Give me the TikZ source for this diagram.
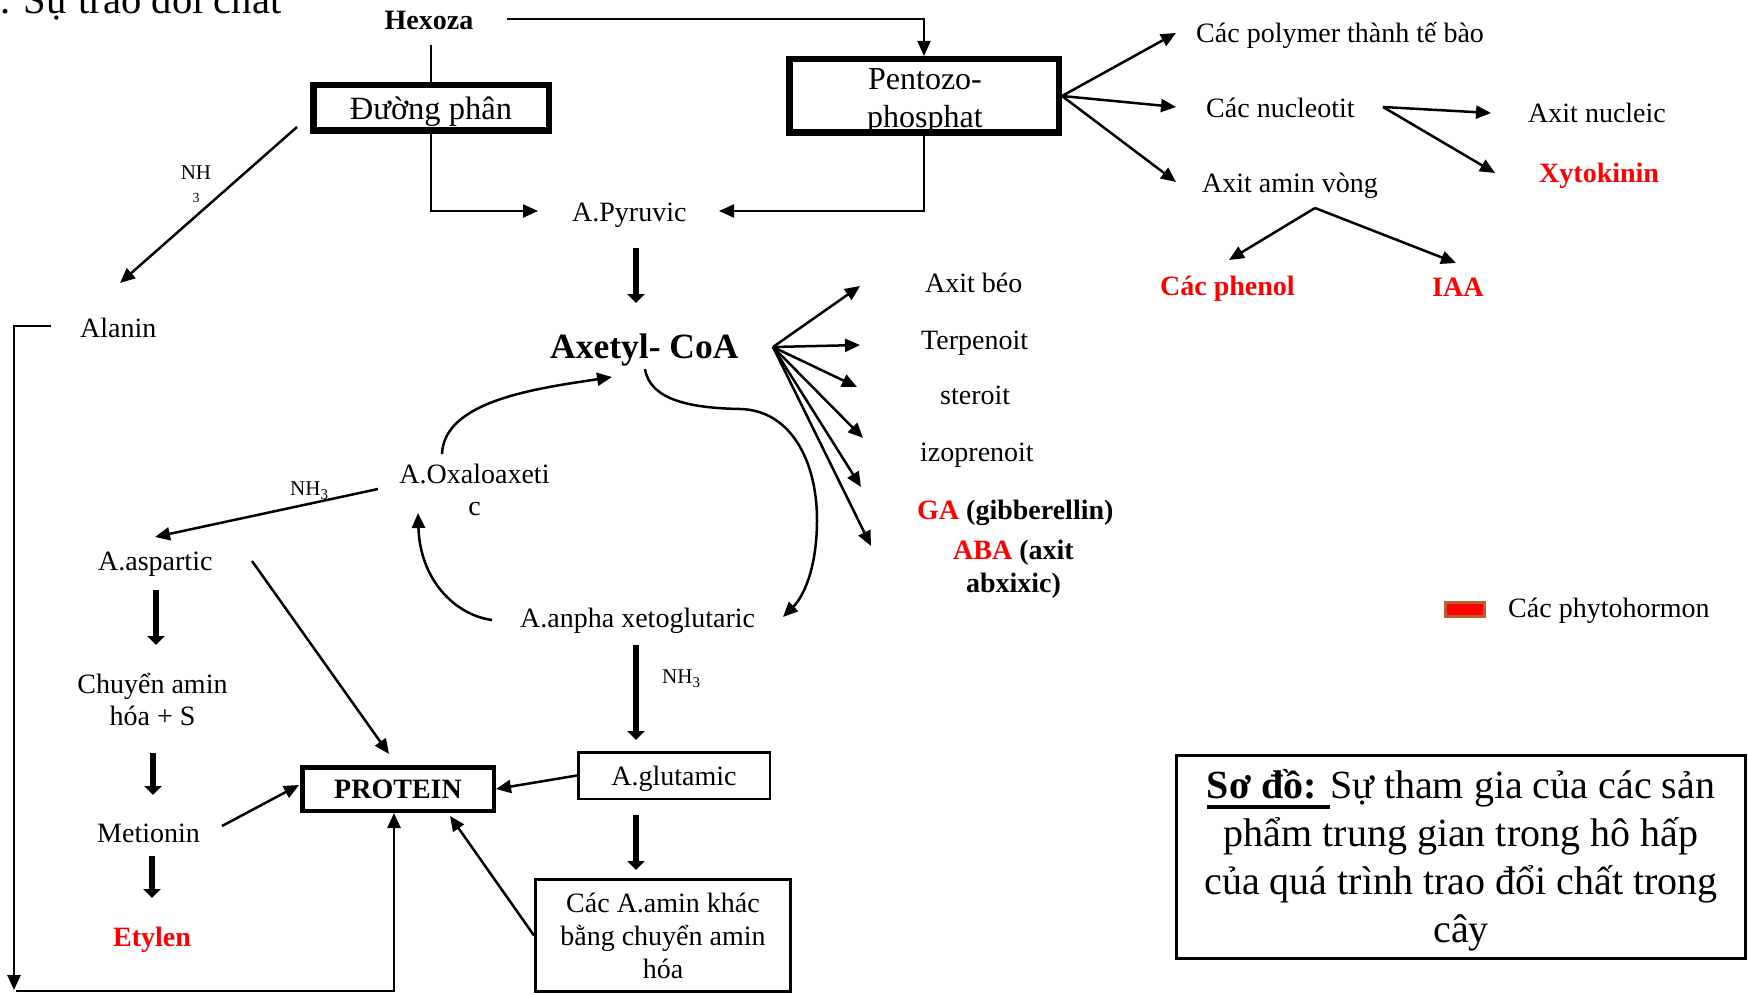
\documentclass[tikz,border=0pt]{standalone}
\usepackage{fontspec}
\setmainfont{Liberation Serif}
\usetikzlibrary{arrows.meta,calc}
\definecolor{hormone}{RGB}{255,0,0}
\definecolor{legendedge}{RGB}{185,95,45}
% underline drawn as a fixed rule that does not change the line height
\newsavebox{\capbox}
\newcommand{\capul}[1]{\sbox{\capbox}{#1}\rlap{\smash{\rule[-10.5pt]{\wd\capbox}{3.5pt}}}\usebox{\capbox}}
\newcommand{\nhsub}{NH\raisebox{-4pt}{\fontsize{15}{15}\selectfont 3}}
\newcommand{\blockfont}[1]{\fontsize{28}{#1}\selectfont\lineskiplimit=-100pt\relax}
\newcommand{\bigblockfont}{\fontsize{32}{38}\selectfont\lineskiplimit=-100pt\relax}
\newcommand{\labelfont}{\fontsize{21}{23}\selectfont\lineskiplimit=-100pt\relax}
\newcommand{\captionfont}{\fontsize{40}{48}\selectfont\lineskiplimit=-100pt\relax}
\newcommand{\subdigit}{\fontsize{14}{14}\selectfont}
\begin{document}
\begin{tikzpicture}[x=1pt,y=-1pt,
  every node/.style={inner sep=0pt},
  txt/.style={font=\fontsize{28}{32}\selectfont},
  btxt/.style={font=\fontsize{28}{32}\selectfont\bfseries},
  horm/.style={btxt,text=hormone},
  lbl/.style={font=\fontsize{21}{23}\selectfont},
  wire/.style={line width=2pt},
  warr/.style={line width=2pt,-{Triangle[length=15pt,width=13pt]}},
  arr/.style={line width=2.5pt,-{Triangle[length=15pt,width=13pt]}},
  fat/.style={line width=6.5pt,-{Triangle[length=9pt,width=17pt]}},
  heavy/.style={draw,line width=6.5pt}]
\useasboundingbox (0,0) rectangle (1748,995);
\clip (0,0) rectangle (1748,995);

% ---------- heading ----------
\node[anchor=base west,font=\fontsize{40.6}{46}\selectfont] (heading) at (-20.3,14) {1. Sự trao đổi chất};

% ---------- upper part: glycolysis and pentose phosphate ----------
\node[btxt,anchor=base] (hexoza) at (429,30) {Hexoza};
\node[heavy,font=\fontsize{32.5}{38}\selectfont,minimum width=235.5pt,minimum height=45.5pt,text height=23pt,text depth=0pt] (glyco) at (431,108) {Đường phân};
\node[heavy,minimum width=269.5pt,minimum height=73.5pt] (ppp) at (924,96) {};
\node[align=center,anchor=north,font=\bigblockfont] (ppptext) at (925,57) {\rule{0pt}{32pt}Pentozo-\\phosphat};

\node[txt,anchor=base west] (polymer) at (1196,43) {Các polymer thành tế bào};
\node[txt,anchor=base west] (nucleotit) at (1206,118) {Các nucleotit};
\node[txt,anchor=base west] (amvong) at (1202,193) {Axit amin vòng};
\node[txt,anchor=base west] (nucleic) at (1528,123) {Axit nucleic};
\node[horm,anchor=base west] (xyto) at (1539,183) {Xytokinin};
\node[horm,anchor=base west] (phenol) at (1160,295) {Các phenol};
\node[horm,anchor=base west] (iaa) at (1432,296) {IAA};

\node[txt,anchor=base west] (pyruvic) at (572,222) {A.Pyruvic};
\node[anchor=base west,font=\fontsize{35.5}{40}\selectfont\bfseries] (acoa) at (550,358) {Axetyl- CoA};
\node[txt,anchor=base west] (alanin) at (80,337) {Alanin};
\node[align=center,anchor=north,font=\labelfont] (nhdiag) at (196,159) {\rule{0pt}{20pt}NH\\\subdigit 3};

% ---------- products of acetyl-CoA ----------
\node[txt,anchor=base west] (fatty) at (925,292) {Axit béo};
\node[txt,anchor=base west] (terp) at (921,349) {Terpenoit};
\node[txt,anchor=base west] (ster) at (940,404) {steroit};
\node[txt,anchor=base west] (izo) at (920,461) {izoprenoit};
\node[btxt,anchor=base west] (ga) at (917,519) {\textcolor{hormone}{GA} (gibberellin)};
\node[align=center,anchor=north,font=\blockfont{33}\bfseries] (aba) at (1013.5,529) {\rule{0pt}{30pt}\textcolor{hormone}{ABA} (axit\\abxixic)};

% ---------- Krebs cycle and amino acids ----------
\node[align=center,anchor=north,font=\blockfont{32}] (oxalo) at (474.5,453) {\rule{0pt}{30pt}A.Oxaloaxeti\\c};
\node[lbl,anchor=base west] (nhox) at (290,495) {\nhsub};
\node[txt,anchor=base west] (aspartic) at (98,570) {A.aspartic};
\node[align=center,anchor=north,font=\blockfont{32}] (transam) at (152.5,663) {\rule{0pt}{30pt}Chuyển amin\\hóa + S};
\node[txt,anchor=base west] (metionin) at (97,842) {Metionin};
\node[horm,anchor=base west] (etylen) at (113,946) {Etylen};
\node[draw,line width=4.5pt,btxt,minimum width=191.5pt,minimum height=43.5pt,text height=18pt,text depth=0pt] (protein) at (398,789) {PROTEIN};
\node[txt,anchor=base west] (akg) at (520,627) {A.anpha xetoglutaric};
\node[lbl,anchor=base west] (nhakg) at (662,683) {\nhsub};
\node[draw,line width=2.5pt,txt,minimum width=191.5pt,minimum height=46.5pt,text height=19pt,text depth=0pt] (glu) at (674,775.5) {A.glutamic};
\node[draw,line width=2.7pt,minimum width=255.3pt,minimum height=112.3pt] (others) at (663,935.5) {};
\node[align=center,anchor=north,font=\blockfont{33}] (otherstext) at (663,882) {\rule{0pt}{30pt}Các A.amin khác\\bằng chuyển amin\\hóa};

% ---------- legend and caption ----------
\node[draw=legendedge,fill=hormone,line width=3pt,minimum width=39pt,minimum height=14pt] (legend) at (1465,609.5) {};
\node[txt,anchor=base west] (legendtext) at (1508,617) {Các phytohormon};
\node[draw,line width=2.7pt,minimum width=569.3pt,minimum height=203.3pt] (capbox) at (1461,857) {};
\node[align=center,anchor=north,font=\captionfont] (captext) at (1461,753) {\rule{0pt}{45pt}\capul{\textbf{Sơ đồ: }}Sự tham gia của các sản\\phẩm trung gian trong hô hấp\\của quá trình trao đổi chất trong\\cây};

% ---------- connector end points ----------
\coordinate (hxOut) at (507,19);
\coordinate (hxDown) at (431,45);
\coordinate (pyrL) at (538,211);
\coordinate (pyrR) at (719,211);
\coordinate (nhA) at (297,127);
\coordinate (nhB) at (120,283);
\coordinate (pp1) at (1176,33);
\coordinate (pp2) at (1176,107);
\coordinate (pp3) at (1176,182);
\coordinate (nuOut) at (1383,107);
\coordinate (nu1) at (1491,113);
\coordinate (nu2) at (1495,173);
\coordinate (avOut) at (1315,208);
\coordinate (av1) at (1229,260);
\coordinate (av2) at (1456,263);
\coordinate (pyDown) at (636,248);
\coordinate (acIn) at (636,303);
\coordinate (acFan) at (773,347);
\coordinate (f1) at (860,286);
\coordinate (f2) at (860,345);
\coordinate (f3) at (857,387);
\coordinate (f4) at (863,438);
\coordinate (f5) at (861,487);
\coordinate (f6) at (871,546);
\coordinate (oxTop) at (442,454);
\coordinate (acLoopIn) at (612,377);
\coordinate (acOut) at (645,369);
\coordinate (akgIn) at (783,617);
\coordinate (akgOut) at (492,620);
\coordinate (oxIn) at (418,513);
\coordinate (oxL) at (378,489);
\coordinate (aspIn) at (155,537);
\coordinate (aspOut) at (156,590);
\coordinate (transIn) at (156,645);
\coordinate (transOut) at (153,753);
\coordinate (metIn) at (153,795);
\coordinate (metOut) at (152,856);
\coordinate (etyIn) at (152,898);
\coordinate (aspDiag) at (252,561);
\coordinate (protTop) at (389,754);
\coordinate (metDiag) at (222,826);
\coordinate (protLeft) at (299,785);
\coordinate (alA) at (51,326);
\coordinate (alB) at (14,326);
\coordinate (alC) at (14,990);
\coordinate (btA) at (16,991);
\coordinate (btB) at (394,991);
\coordinate (akgDown) at (636,645);
\coordinate (gluIn) at (636,740);
\coordinate (gluDown) at (636,815);
\coordinate (othersIn) at (636,870);
\coordinate (protLow) at (450,816);

% ---------- connectors ----------
\draw[warr] (hxOut) -| (ppp.north);
\draw[wire] (hxDown) -- (glyco.north);
\draw[warr] (glyco.south) |- (pyrL);
\draw[warr] (ppp.south) |- (pyrR);
\draw[arr] (nhA) -- (nhB);
\foreach \t in {pp1,pp2,pp3} \draw[arr] (ppp.east) -- (\t);
\draw[arr] (nuOut) -- (nu1);
\draw[arr] (nuOut) -- (nu2);
\draw[arr] (avOut) -- (av1);
\draw[arr] (avOut) -- (av2);
\draw[fat] (pyDown) -- (acIn);
\foreach \t in {f1,f2,f3,f4,f5,f6} \draw[arr] (acFan) -- (\t);

\draw[arr] (oxTop) .. controls (444,400) and (540,388) .. (acLoopIn);
\draw[arr] (acOut) .. controls (650,400) and (690,408) .. (740,409)
                   .. controls (790,410) and (817,460) .. (817,520)
                   .. controls (817,565) and (805,595) .. (akgIn);
\draw[arr] (akgOut) .. controls (455,615) and (420,580) .. (oxIn);

\draw[arr] (oxL) -- (aspIn);
\draw[fat] (aspOut) -- (transIn);
\draw[fat] (transOut) -- (metIn);
\draw[fat] (metOut) -- (etyIn);
\draw[arr] (aspDiag) -- (protTop);
\draw[arr] (metDiag) -- (protLeft);
\draw[arr] (alA) -- (alB) -- (alC);
\draw[arr] (btA) -- (btB) -- ($(protein.south)+(-4,0)$);
\draw[fat] (akgDown) -- (gluIn);
\draw[fat] (gluDown) -- (othersIn);
\draw[arr] (glu.west) -- (protein.east);
\draw[arr] (others.west) -- (protLow);
\end{tikzpicture}
\end{document}
